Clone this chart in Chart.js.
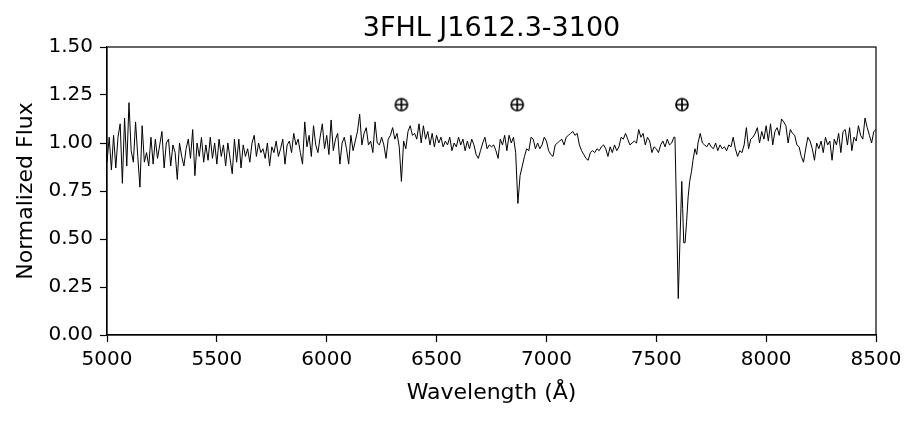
<!DOCTYPE html>
<html>
<head>
<meta charset="utf-8">
<script src="https://cdn.jsdelivr.net/npm/chart.js@4.4.0/dist/chart.umd.min.js"></script>
<style>
  html, body { margin: 0; padding: 0; background: #fff; }
  #spec { display: block; }
</style>
</head>
<body>
<canvas id="spec" width="915" height="423"></canvas>
<script>
var gridStep = 10;

// 5000 .. 7580 A
var fluxBlue = [
  0.90, 1.03, 0.86, 1.04, 0.87, 1.03, 1.10, 0.79, 1.13, 0.88,  // 5000
  1.21, 0.96, 0.90, 1.11, 0.93, 0.77, 1.09, 0.90, 0.95, 0.88,  // 5100
  1.03, 0.89, 1.02, 0.92, 0.99, 1.06, 0.87, 1.00, 1.02, 0.88,  // 5200
  0.99, 0.95, 0.81, 1.00, 0.93, 0.88, 0.97, 1.02, 0.92, 1.07,  // 5300
  0.83, 1.00, 0.93, 1.03, 0.90, 0.99, 0.91, 1.03, 0.92, 1.00,  // 5400
  0.89, 1.02, 0.93, 0.99, 0.88, 1.00, 0.92, 0.84, 1.02, 0.90,  // 5500
  1.02, 0.87, 0.99, 0.93, 0.97, 0.90, 1.00, 1.04, 0.93, 1.00,  // 5600
  0.95, 0.97, 0.92, 1.00, 0.88, 0.98, 0.95, 1.01, 0.93, 0.97,  // 5700
  1.02, 0.89, 0.99, 1.01, 0.95, 1.05, 0.99, 1.02, 0.95, 0.89,  // 5800
  1.11, 0.98, 1.04, 0.93, 1.09, 0.99, 0.95, 1.03, 1.10, 0.97,  // 5900
  1.04, 0.94, 1.12, 0.96, 1.02, 1.05, 0.89, 1.00, 1.03, 0.97,  // 6000
  0.89, 1.04, 0.96, 1.01, 1.06, 1.15, 0.99, 1.05, 1.08, 0.99,  // 6100
  1.01, 0.95, 1.11, 1.00, 0.99, 1.03, 0.99, 0.92, 1.02, 1.04,  // 6200
  1.08, 1.02, 1.05, 0.98, 0.80, 1.01, 0.97, 1.06, 1.09, 1.04,  // 6300
  1.05, 1.02, 1.10, 1.00, 1.09, 1.02, 1.06, 0.99, 1.05, 0.98,  // 6400
  1.04, 1.00, 1.03, 0.98, 1.01, 0.99, 1.03, 0.96, 1.00, 0.98,  // 6500
  1.03, 0.99, 1.02, 0.96, 1.01, 0.97, 1.02, 0.99, 0.94, 0.92,  // 6600
  0.96, 1.00, 1.03, 0.97, 0.99, 0.98, 0.99, 0.96, 0.92, 1.02,  // 6700
  0.99, 1.04, 0.96, 1.04, 1.00, 1.03, 0.95, 0.685, 0.83, 0.88, // 6800
  0.93, 0.97, 0.96, 1.03, 1.02, 0.97, 1.00, 0.97, 0.99, 1.03,  // 6900
  1.01, 0.96, 0.94, 0.93, 0.99, 1.00, 1.01, 1.02, 0.99, 1.03,  // 7000
  1.04, 1.05, 1.06, 1.04, 1.05, 0.99, 0.96, 0.94, 0.92, 0.91,  // 7100
  0.95, 0.96, 0.95, 0.97, 0.96, 0.98, 0.99, 0.97, 0.93, 0.98,  // 7200
  0.95, 0.99, 0.96, 0.98, 1.03, 1.02, 1.05, 1.02, 0.99, 1.00,  // 7300
  1.01, 1.00, 1.07, 1.03, 1.05, 0.99, 1.03, 1.01, 0.95, 0.98,  // 7400
  0.97, 0.95, 0.99, 1.01, 0.98, 1.02, 0.99, 1.00, 1.03         // 7500
];

// telluric A band, finer sampling
var bandWave = [7585, 7593, 7600, 7608, 7616, 7620, 7625, 7631, 7638, 7645, 7652, 7660, 7667, 7676, 7684];
var bandFlux = [1.03, 0.60, 0.19, 0.50, 0.80, 0.66, 0.48, 0.48, 0.59, 0.72, 0.80, 0.85, 0.91, 0.97, 0.94];

// 7690 .. 8500 A
var fluxRed = [
  1.00, 1.05, 1.00, 0.99, 0.98, 1.00, 0.98, 0.97, 1.00, 0.96, 0.99, // 7690
  0.97, 0.98, 0.96, 0.99, 0.98, 1.03, 0.97, 0.93, 0.96, 0.95,  // 7800
  0.99, 1.08, 0.97, 1.02, 1.03, 1.05, 1.08, 1.00, 1.06, 1.02,  // 7900
  1.09, 1.01, 1.10, 0.99, 1.06, 1.08, 1.04, 1.125, 1.11, 1.09, // 8000
  1.00, 1.07, 1.05, 1.04, 0.99, 0.98, 0.93, 0.90, 0.97, 1.03,  // 8100
  1.01, 0.97, 0.91, 1.00, 0.97, 1.01, 0.95, 1.03, 0.99, 1.01,  // 8200
  0.91, 1.02, 0.99, 1.05, 0.95, 1.06, 1.07, 0.99, 1.08, 0.96,  // 8300
  1.03, 1.01, 1.09, 1.04, 1.02, 1.13, 1.08, 1.04, 1.00, 1.06,  // 8400
  1.07                                                          // 8500
];

// telluric marks
var tellWave = [6340, 6867, 7617];
var tellLevel = 1.20;

var xTicks = [5000, 8500, 500];
var yTicks = [0, 1.5, 0.25];
var titleText = '3FHL J1612.3-3100';

var spectrum = [];
fluxBlue.forEach(function (f, i) { spectrum.push({x: 5000 + i * gridStep, y: f}); });
bandWave.forEach(function (w, i) { spectrum.push({x: w, y: bandFlux[i]}); });
fluxRed.forEach(function (f, i) { spectrum.push({x: 7690 + i * gridStep, y: f}); });

// circled plus marker
var earth = document.createElement('canvas');
earth.width = 16; earth.height = 16;
var ec = earth.getContext('2d');
ec.strokeStyle = '#000';
ec.lineWidth = 1.7;
ec.beginPath(); ec.arc(8, 8, 6, 0, Math.PI * 2); ec.stroke();
ec.beginPath();
ec.moveTo(8, 2); ec.lineTo(8, 14);
ec.moveTo(2, 8); ec.lineTo(14, 8);
ec.stroke();

// axes frame + title centred over the plot area
var frame = {
  id: 'frame',
  afterDatasetsDraw: function (chart) {
    var a = chart.chartArea, c = chart.ctx;
    c.save();
    c.strokeStyle = '#000';
    c.lineWidth = 1.2;
    c.strokeRect(a.left, a.top, a.right - a.left, a.bottom - a.top);
    c.fillStyle = '#000';
    c.font = '27px "DejaVu Sans", sans-serif';
    c.textAlign = 'center';
    c.textBaseline = 'alphabetic';
    c.fillText(titleText, (a.left + a.right) / 2, 36);
    c.restore();
  }
};

Chart.defaults.font.family = '"DejaVu Sans", sans-serif';
Chart.defaults.color = '#000';

var ctx = document.getElementById('spec').getContext('2d');
var chart = new Chart(ctx, {
  type: 'line',
  data: {
    datasets: [
      {
        data: spectrum,
        borderColor: '#000',
        borderWidth: 1,
        pointRadius: 0,
        tension: 0,
        fill: false
      },
      {
        type: 'scatter',
        data: tellWave.map(function (w) { return {x: w, y: tellLevel}; }),
        pointStyle: earth,
        pointRadius: 8
      }
    ]
  },
  options: {
    responsive: false,
    animation: false,
    layout: { padding: { left: 0, right: 39, top: 47, bottom: 0 } },
    plugins: {
      legend: { display: false },
      tooltip: { enabled: false },
      title: { display: false }
    },
    scales: {
      x: {
        type: 'linear',
        min: xTicks[0], max: xTicks[1],
        ticks: {
          stepSize: xTicks[2], font: { size: 20 }, padding: 6, maxRotation: 0, color: '#000',
          callback: function (v) { return String(v); }
        },
        grid: { drawOnChartArea: false, tickLength: 7, tickColor: '#000', tickWidth: 1.2 },
        border: { color: '#000', width: 1.2 },
        title: { display: true, text: 'Wavelength (Å)', font: { size: 22 }, color: '#000', padding: { top: 0, bottom: 17 } },
        afterFit: function (s) { s.height = 88; }
      },
      y: {
        min: yTicks[0], max: yTicks[1],
        ticks: {
          stepSize: yTicks[2], font: { size: 20 }, padding: 7, color: '#000',
          callback: function (v) { return v.toFixed(2); }
        },
        grid: { drawOnChartArea: false, tickLength: 7, tickColor: '#000', tickWidth: 1.2 },
        border: { color: '#000', width: 1.2 },
        title: { display: true, text: 'Normalized Flux', font: { size: 22 }, color: '#000', padding: { top: 13, bottom: 0 } },
        afterFit: function (s) { s.width = 107; }
      }
    }
  },
  plugins: [frame]
});
</script>
</body>
</html>
